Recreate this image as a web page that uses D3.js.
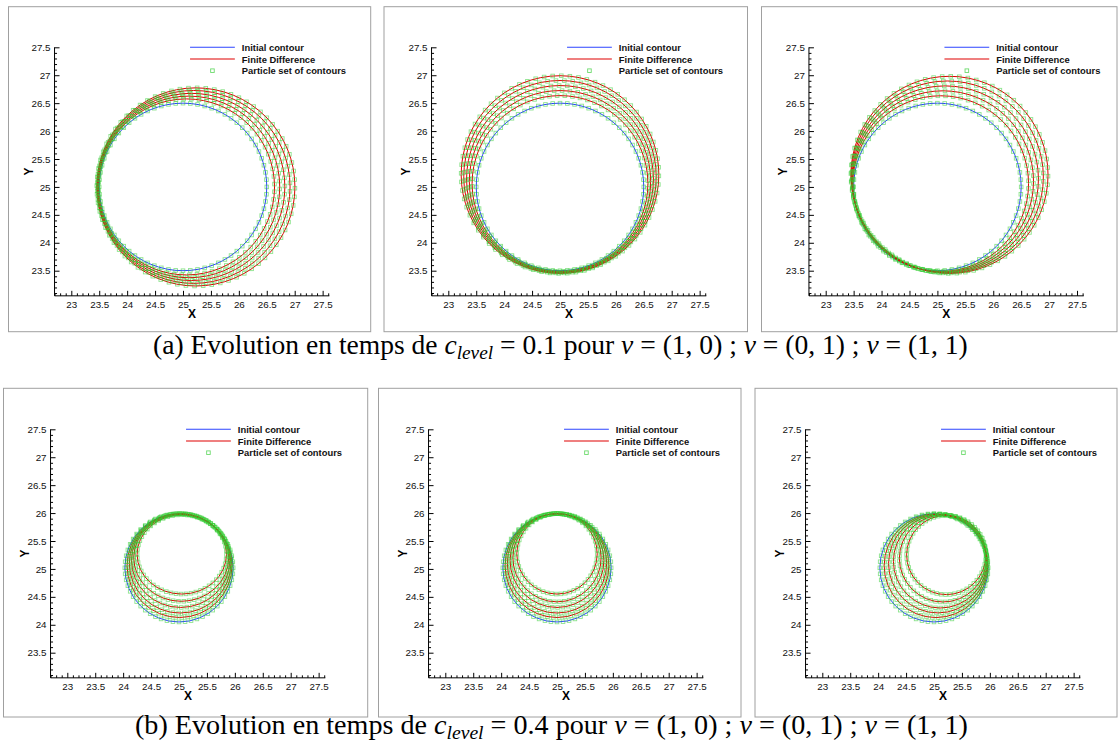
<!DOCTYPE html>
<html><head><meta charset="utf-8">
<script src="https://cdn.jsdelivr.net/npm/d3@7"></script>
<style>body{margin:0;background:#fff} .cap{font-family:"Liberation Serif","DejaVu Serif",serif}</style>
</head><body>
<svg id="c" width="1119" height="743"></svg>
<script>
// ---------------- data ----------------
const xTicks = [23, 23.5, 24, 24.5, 25, 25.5, 26, 26.5, 27, 27.5];
const yTicks = [23.5, 24, 24.5, 25, 25.5, 26, 26.5, 27, 27.5];
const xDomain = [22.7, 27.62];
const yDomain = [23.05, 27.5];
const legendLabels = ["Initial contour", "Finite Difference", "Particle set of contours"];
const axisTitles = ["X", "Y"];
const captionLetters = ["(a)", "(b)"];
const captionLevels = ["0.1", "0.4"];

// initial contour (top row: c_level = 0.1, bottom row: c_level = 0.4)
const initCx = [25.0, 25.0];
const initCy = [25.0, 25.02];
const initR  = [1.5, 0.97];

// finite difference contours, top row (c_level = 0.1)
const a1Cx = [25.063, 25.106, 25.148, 25.190, 25.230];
const a1Cy = [25.0, 25.0, 25.0, 25.0, 25.0];
const a1R  = [1.576, 1.626, 1.676, 1.727, 1.774];

const a2Cx = [25.0, 25.0, 25.0, 25.0, 25.0];
const a2Cy = [25.061, 25.101, 25.142, 25.182, 25.221];
const a2R  = [1.574, 1.624, 1.673, 1.723, 1.770];

const a3Cx = [25.059, 25.099, 25.139, 25.178, 25.216];
const a3Cy = [25.059, 25.099, 25.139, 25.178, 25.216];
const a3R  = [1.573, 1.622, 1.670, 1.719, 1.765];

// bottom row (c_level = 0.4)
const b1Cx = [25.01, 25.02, 25.03, 25.04, 25.05];
const b1Cy = [25.06, 25.10, 25.15, 25.20, 25.26];
const b1Rx = [0.94, 0.91, 0.88, 0.85, 0.80];
const b1Ry = [0.93, 0.89, 0.84, 0.78, 0.71];

const b2Cx = [25.0, 25.0, 25.0, 25.0, 25.0];
const b2Cy = [25.06, 25.10, 25.15, 25.20, 25.27];
const b2R  = [0.93, 0.89, 0.84, 0.79, 0.72];

const b3Cx = [25.035, 25.07, 25.11, 25.16, 25.22];
const b3Cy = [25.057, 25.096, 25.137, 25.188, 25.25];
const b3R  = [0.928, 0.884, 0.837, 0.78, 0.71];

const particlesPerContour = [72, 56];

// ---------------- layout ----------------
const K = 55.85; // px per unit
const panels = [
  {box:[8.5, 6.7, 370.7, 331.7],   ox:71.3,  oy:47.3,  row:0, cx:a1Cx, cy:a1Cy, rx:a1R, ry:a1R},
  {box:[384, 6.7, 747.5, 331.7],   ox:448.3, oy:47.3,  row:0, cx:a2Cx, cy:a2Cy, rx:a2R, ry:a2R},
  {box:[761.5, 6.7, 1117, 331.7],  ox:825.7, oy:47.3,  row:0, cx:a3Cx, cy:a3Cy, rx:a3R, ry:a3R},
  {box:[3.5, 388.3, 367.7, 717],   ox:67.3,  oy:429.3, row:1, cx:b1Cx, cy:b1Cy, rx:b1Rx, ry:b1Ry},
  {box:[378.5, 388.3, 741, 717],   ox:445.3, oy:429.3, row:1, cx:b2Cx, cy:b2Cy, rx:b2R, ry:b2R},
  {box:[755, 388.3, 1117, 717],    ox:822.3, oy:429.3, row:1, cx:b3Cx, cy:b3Cy, rx:b3R, ry:b3R}
];

const BLUE = "#2d45ff", RED = "#e00000", GREEN = "#30cc30";
const svg = d3.select("#c");
svg.append("rect").attr("width",1119).attr("height",743).attr("fill","#fff");

function minorValues(lo, hi) {
  const out = [];
  for (let i = Math.ceil(lo*10 - 1e-6); i <= Math.floor(hi*10 + 1e-6); i++) {
    if (i % 5 !== 0) out.push(i/10);
  }
  return out;
}

panels.forEach((p, pi) => {
  const g = svg.append("g");
  g.append("rect").attr("x", p.box[0]).attr("y", p.box[1])
    .attr("width", p.box[2]-p.box[0]).attr("height", p.box[3]-p.box[1])
    .attr("fill", "none").attr("stroke", "#a0a0a0").attr("stroke-width", 1);

  const x = d3.scaleLinear().domain([23, 27.5]).range([p.ox, p.ox + 4.5*K]);
  const y = d3.scaleLinear().domain([27.5, 23.5]).range([p.oy, p.oy + 4*K]);
  const x0 = x(xDomain[0]), x1 = x(xDomain[1]);
  const y0 = y(yDomain[0]), y1 = y(yDomain[1]);

  const xa = g.append("g").attr("transform", `translate(0,${y0})`)
    .call(d3.axisBottom(x).tickValues(xTicks).tickSizeInner(-5).tickSizeOuter(0).tickPadding(5)
      .tickFormat(d3.format("")));
  xa.select(".domain").attr("d", `M${x0},0H${x1}`);
  const xm = g.append("g").attr("transform", `translate(0,${y0})`)
    .call(d3.axisBottom(x).tickValues(minorValues(xDomain[0], xDomain[1])).tickSizeInner(-2.5).tickSizeOuter(0).tickFormat(""));
  xm.select(".domain").remove();

  const ya = g.append("g").attr("transform", `translate(${x0},0)`)
    .call(d3.axisLeft(y).tickValues(yTicks).tickSizeInner(-5).tickSizeOuter(0).tickPadding(4)
      .tickFormat(d3.format("")));
  ya.select(".domain").attr("d", `M0,${y0}V${y1}`);
  const ym = g.append("g").attr("transform", `translate(${x0},0)`)
    .call(d3.axisLeft(y).tickValues(minorValues(yDomain[0]+0.01, yDomain[1])).tickSizeInner(-2.5).tickSizeOuter(0).tickFormat(""));
  ym.select(".domain").remove();

  g.selectAll(".tick text").attr("font-family", "'Liberation Sans', Arial, sans-serif")
    .attr("font-size", 9.8).attr("fill", "#111");
  g.selectAll(".domain, .tick line").attr("stroke", "#000").attr("stroke-width", 1);

  g.append("text").attr("x", (x0+x1)/2).attr("y", y0 + 22.5).attr("text-anchor", "middle")
    .attr("font-family", "'Liberation Sans', Arial, sans-serif").attr("font-weight", "bold")
    .attr("font-size", 12).text(axisTitles[0]);
  g.append("text").attr("transform", `translate(${x0-22},${(y0+y1)/2}) rotate(-90)`)
    .attr("text-anchor", "middle")
    .attr("font-family", "'Liberation Sans', Arial, sans-serif").attr("font-weight", "bold")
    .attr("font-size", 12).text(axisTitles[1]);

  const row = p.row;
  const contours = [{cx:initCx[row], cy:initCy[row], rx:initR[row], ry:initR[row], c:BLUE}];
  p.cx.forEach((_, k) => contours.push({cx:p.cx[k], cy:p.cy[k], rx:p.rx[k], ry:p.ry[k], c:RED}));

  const plot = g.append("g");
  plot.selectAll("ellipse").data(contours).join("ellipse")
    .attr("cx", d => x(d.cx)).attr("cy", d => y(d.cy))
    .attr("rx", d => x(d.cx + d.rx) - x(d.cx))
    .attr("ry", d => y(d.cy - d.ry) - y(d.cy))
    .attr("fill", "none").attr("stroke", d => d.c).attr("stroke-width", 1);

  const N = particlesPerContour[row];
  const pts = [];
  contours.forEach((c, k) => {
    const phase = (k * 0.37) * (2*Math.PI/N);
    for (let i = 0; i < N; i++) {
      const t = phase + i * 2*Math.PI/N;
      pts.push([c.cx + c.rx*Math.cos(t), c.cy + c.ry*Math.sin(t)]);
    }
  });
  const s = 3.6;
  plot.selectAll("rect.pt").data(pts).join("rect").attr("class", "pt")
    .attr("x", d => x(d[0]) - s/2).attr("y", d => y(d[1]) - s/2)
    .attr("width", s).attr("height", s)
    .attr("fill", "none").attr("stroke", GREEN).attr("stroke-opacity", 0.55).attr("stroke-width", 0.9);

  const lx = x0 + 135.5, rowH = 11.7;
  const lg = g.append("g");
  [BLUE, RED].forEach((c, i) => {
    lg.append("line").attr("x1", lx).attr("x2", lx + 44.8)
      .attr("y1", p.oy + i*rowH).attr("y2", p.oy + i*rowH)
      .attr("stroke", c).attr("stroke-width", 1.1);
  });
  lg.append("rect").attr("x", lx + 22.4 - s/2).attr("y", p.oy + 2*rowH - s/2)
    .attr("width", s).attr("height", s).attr("fill", "none")
    .attr("stroke", GREEN).attr("stroke-opacity", 0.7).attr("stroke-width", 0.9);
  legendLabels.forEach((t, i) => {
    lg.append("text").attr("x", lx + 51.8).attr("y", p.oy + i*rowH)
      .attr("dominant-baseline", "central")
      .attr("font-family", "'Liberation Sans', Arial, sans-serif").attr("font-weight", "bold")
      .attr("font-size", 9.4).attr("fill", "#111").text(t);
  });
});

// captions
const capSpecs = [{x0:153, x1:968, y:354}, {x0:135, x1:968, y:734}];
captionLetters.forEach((letter, i) => {
  const sp = capSpecs[i];
  const t = svg.append("text").attr("class", "cap").attr("x", sp.x0).attr("y", sp.y)
    .style("font-size", "20px").attr("fill", "#000");
  const parts = [
    [letter + " Evolution en temps de ", null],
    ["c", "i"], ["level", "sub"],
    [" = " + captionLevels[i] + " pour ", null],
    ["v", "i"], [" = (1, 0) ; ", null],
    ["v", "i"], [" = (0, 1) ; ", null],
    ["v", "i"], [" = (1, 1)", null]
  ];
  parts.forEach(([txt, kind]) => {
    const ts = t.append("tspan").text(txt);
    if (kind === "i") ts.style("font-style", "italic");
    if (kind === "sub") ts.style("font-style", "italic").style("font-size", "70%").attr("baseline-shift", "-25%");
  });
  const w = t.node().getComputedTextLength();
  t.style("font-size", (20 * (sp.x1 - sp.x0) / w) + "px");
});
</script>
</body></html>
